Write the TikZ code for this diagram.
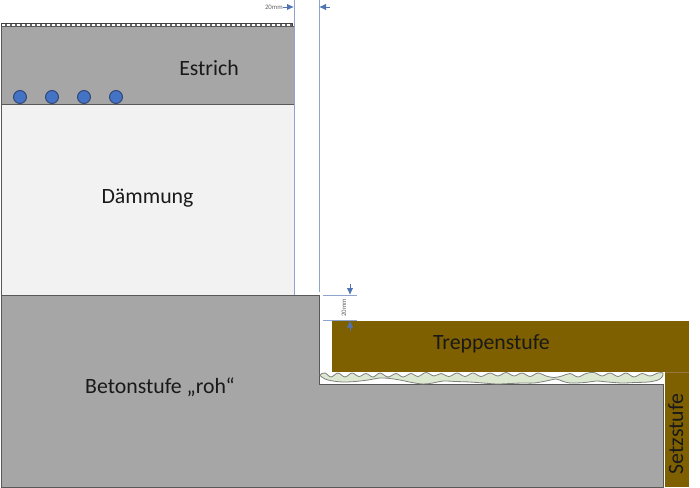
\documentclass[tikz,border=0pt]{standalone}
\usepackage{fontspec}
\setmainfont{Carlito}
\usetikzlibrary{arrows.meta}
\definecolor{concrete}{HTML}{A6A6A6}
\definecolor{insul}{HTML}{F2F2F2}
\definecolor{wood}{HTML}{7F6000}
\definecolor{woodline}{HTML}{95783A}
\definecolor{pipe}{HTML}{4472C4}
\definecolor{pipeline}{HTML}{2F4570}
\definecolor{dimblue}{HTML}{8EA4CC}
\definecolor{dimarrow}{HTML}{4F74B5}
\definecolor{mortar}{HTML}{DCE8D0}
\tikzset{
 layer/.style={draw=black!65,line width=0.8pt},
 pipecirc/.style={circle,draw=pipeline,line width=0.9pt,fill=pipe,minimum size=13pt,inner sep=0pt},
 lbl/.style={font=\fontsize{21.8}{26}\selectfont,text=black!90,inner sep=0pt,anchor=base},
 dimline/.style={draw=dimblue,line width=1pt},
 dimtip/.style={draw=dimarrow,line width=0.9pt,-{Latex[length=7pt,width=6.5pt]}},
 dimtxt/.style={font=\fontsize{6.8}{8}\selectfont,text=black!60,inner sep=0pt}
}
\begin{document}
\begin{tikzpicture}[x=1pt,y=-1pt]
\useasboundingbox[fill=white] (0,0) rectangle (700,487);
% top strip
\draw[black!75,line width=0.7pt,fill=black!60] (1,23.5) rectangle (292,26.5);
\draw[white,line width=1.2pt,dash pattern=on 3pt off 2pt] (2,25) -- (291,25);
% layers
\node[layer,fill=concrete,minimum width=293pt,minimum height=78pt,inner sep=0pt,anchor=north west] (est) at (1,26) {};
\node[layer,fill=insul,minimum width=293pt,minimum height=191pt,inner sep=0pt,anchor=north west] (dae) at (1,104) {};
\draw[layer,fill=concrete] (1,295) -- (319,295) -- (319,384) -- (663,384) -- (663,487) -- (1,487) -- cycle;
% pipes
\node[pipecirc] (p1) at (20,97) {};
\node[pipecirc] (p2) at (52,97) {};
\node[pipecirc] (p3) at (84,97) {};
\node[pipecirc] (p4) at (116,97) {};
% mortar
\draw[fill=mortar,draw=black!50,line width=0.8pt] plot[smooth cycle,tension=0.55] coordinates {
 (320,375) (325,373) (331,377) (338,373) (345,377) (352,373) (359,376.5) (366,373.5) (373,377) (380,373) (388,377) (396,373.5) (403,377) (411,373.5) (418,376.5) (426,372.5) (434,376) (441,373.5) (449,376.5) (457,373) (465,376.5) (473,373) (481,376.5) (490,373) (498,376) (506,372.5) (514,376) (522,373) (530,376.5) (538,373) (546,376) (554,377.5) (562,376) (570,373.5) (578,377) (586,373.5) (594,372.5) (602,376) (610,373) (618,376.5) (626,373) (634,377) (642,373.5) (650,376) (658,373) (663,373)
 (662,377) (658,380) (648,382) (635,382.5) (622,383) (608,382) (596,381) (585,382.5) (570,383) (562,381) (556,379) (546,381) (534,383) (522,383) (510,383.5) (497,384) (483,383) (470,382) (456,381.5) (443,381) (433,383) (423,384) (412,382.5) (400,380) (390,378.5) (380,378) (368,380) (355,381.5) (343,382) (333,381) (325,379)};
% wood
\node[fill=wood,minimum width=357pt,minimum height=51pt,inner sep=0pt,anchor=north west] (tre) at (332,320.5) {};
\node[fill=wood,minimum width=24pt,minimum height=115.5pt,inner sep=0pt,anchor=north west] (set) at (665,371.5) {};
\draw[woodline,line width=0.8pt] (tre.south -| set.west) -- (tre.south east);
% dim lines
\coordinate (a1) at (294,0); \coordinate (a2) at (294,295);
\coordinate (b1) at (319,0); \coordinate (b2) at (319,292);
\draw[dimline] (a1) -- (a2);
\draw[dimline] (b1) -- (b2);
\coordinate (c1) at (323,295); \coordinate (c2) at (357,295);
\coordinate (d1) at (323,320.5); \coordinate (d2) at (357,320.5);
\draw[dimline] (c1) -- (c2);
\draw[dimline] (d1) -- (d2);
\coordinate (e1) at (283,7); \coordinate (e2) at (294,7);
\coordinate (f1) at (330,7); \coordinate (f2) at (319,7);
\coordinate (g1) at (350,284); \coordinate (g2) at (350,295);
\coordinate (h1) at (350,331); \coordinate (h2) at (350,320.5);
\draw[dimtip] (e1) -- (e2);
\draw[dimtip] (f1) -- (f2);
\draw[dimtip] (g1) -- (g2);
\draw[dimtip] (h1) -- (h2);
% labels
\node[dimtxt,anchor=east] (t20a) at (283,7) {20mm};
\node[dimtxt,rotate=90] (t20b) at (344,308) {20mm};
\node[lbl] (lest) at (209,75) {Estrich};
\node[lbl] (ldae) at (147.5,203) {Dämmung};
\node[lbl] (lbet) at (160,393) {Betonstufe „roh“};
\node[lbl] (ltre) at (491.5,349) {Treppenstufe};
\node[lbl,rotate=90] (lset) at (683,434) {Setzstufe};
\end{tikzpicture}
\end{document}
